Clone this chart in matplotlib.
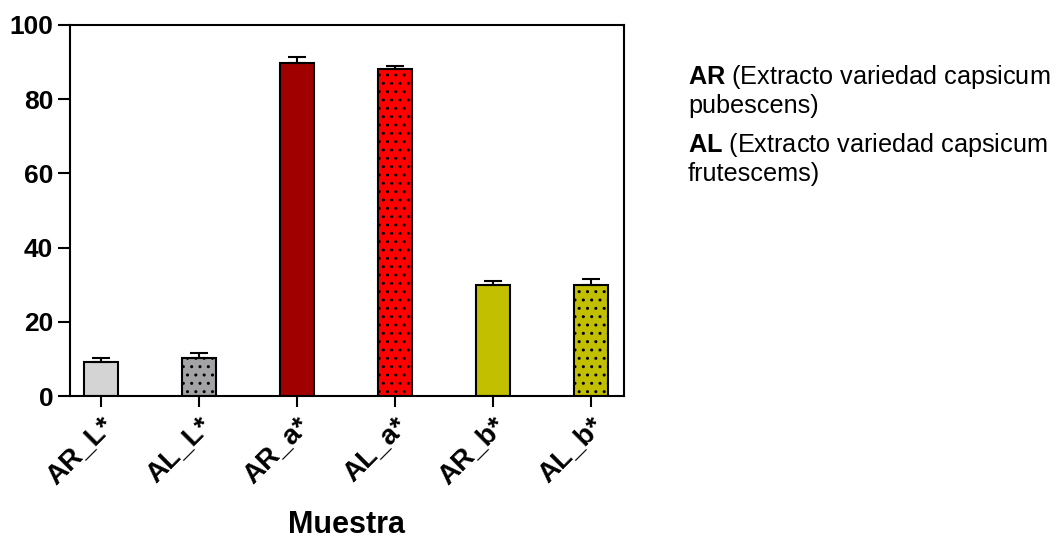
import matplotlib
matplotlib.use("Agg")
import matplotlib.pyplot as plt
import numpy as np

categories = ["AR_L*", "AL_L*", "AR_a*", "AL_a*", "AR_b*", "AL_b*"]
values = [9.2, 10.2, 89.8, 88.2, 30.0, 30.0]
errors = [1.0, 1.3, 1.5, 0.7, 1.0, 1.5]
colors = ["#d4d4d4", "#a3a3a6", "#a00000", "#ff0000", "#c2bf00", "#c2bf00"]
hatches = ["", "..", "", "..", "", ".."]
yticks = [0, 20, 40, 60, 80, 100]

plt.rcParams['font.family'] = ['Liberation Sans', 'DejaVu Sans']
plt.rcParams['mathtext.fontset'] = 'custom'
plt.rcParams['mathtext.rm'] = 'Liberation Sans'
plt.rcParams['mathtext.bf'] = 'Liberation Sans:bold'
plt.rcParams['hatch.linewidth'] = 1.0

fig = plt.figure(figsize=(10.64, 5.40), dpi=100)
ax = fig.add_axes([70/1064, 1 - 396/540, (624-70)/1064, (396-25)/540])

x = np.arange(len(categories))
for i in range(len(categories)):
    ax.bar(x[i], values[i], width=0.34, color=colors[i], edgecolor="black",
           linewidth=1.5, hatch=hatches[i] if hatches[i] else None, zorder=2)
    ax.errorbar(x[i], values[i], yerr=[[0], [errors[i]]], fmt="none",
                ecolor="black", elinewidth=1.5, capsize=6.5, capthick=1.5, zorder=3)

ax.set_xlim(-0.316, 5.337)
ax.set_ylim(0, 100)
ax.set_yticks(yticks)
ax.set_yticklabels([str(v) for v in yticks], fontsize=19, fontweight="bold")
ax.set_xticks(x)
ax.set_xticklabels(categories, fontsize=20, fontweight="bold", rotation=45,
                   ha="right", rotation_mode="anchor")
ax.tick_params(axis="y", direction="out", length=9, width=1.5, pad=3)
ax.tick_params(axis="x", direction="out", length=8, width=1.5, pad=4)
for s in ax.spines.values():
    s.set_linewidth(1.5)
ax.set_xlabel("Muestra", fontsize=22, fontweight="bold", va="center")
ax.xaxis.set_label_coords(0.5, (396 - 525) / 371)

fs = 18.2
fig.text(688/1064, 1 - 84/540, r"$\mathbf{AR}$ (Extracto variedad capsicum", fontsize=fs,
         va="baseline", ha="left")
fig.text(688/1064, 1 - 113/540, "pubescens)", fontsize=fs, va="baseline", ha="left")
fig.text(688/1064, 1 - 152/540, r"$\mathbf{AL}$ (Extracto variedad capsicum", fontsize=fs,
         va="baseline", ha="left")
fig.text(688/1064, 1 - 181/540, "frutescems)", fontsize=fs, va="baseline", ha="left")

fig.savefig("out.png", dpi=100)
